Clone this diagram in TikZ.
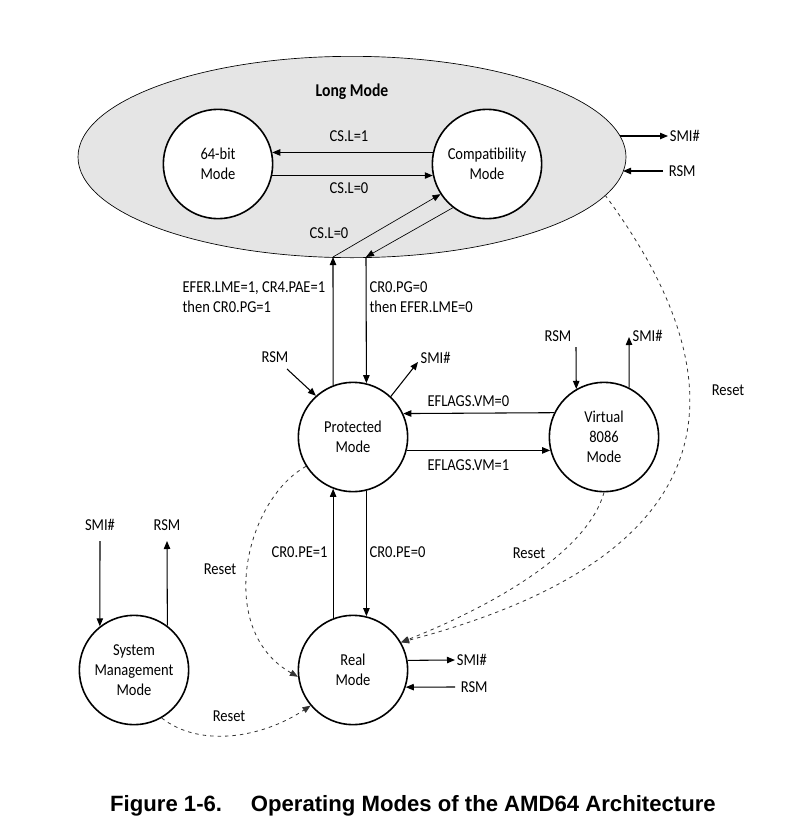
\documentclass[tikz,border=0pt]{standalone}
\usepackage{fontspec}
\setmainfont{Carlito}[FakeStretch=0.87]
\newfontfamily\captionfont{Liberation Sans}
\usetikzlibrary{shapes.geometric, arrows.meta}

\begin{document}
\begin{tikzpicture}[x=0.75pt, y=-0.75pt, >={Triangle[length=6pt,width=4.8pt]},
    mode/.style={circle, draw, line width=1.2pt, fill=white, minimum size=82pt,
        inner sep=0pt, align=center, font=\fontsize{12.5}{15}\selectfont},
    lbl/.style={font=\fontsize{12.5}{15}\selectfont, inner sep=1pt, align=left},
    trans/.style={->, line width=0.8pt},
    diag/.style={->, line width=0.5pt},
    reset/.style={->, line width=0.6pt, dash pattern=on 2.6pt off 3pt, black!80}]
    \useasboundingbox (0,0) rectangle (794,832);

    % Long mode region
    \node[ellipse, draw, line width=0.5pt, fill=gray!20, minimum width=411pt,
        minimum height=151pt, inner sep=0pt] (long) at (352,157) {};
    \node[font=\fontsize{13.5}{16}\selectfont\bfseries] (longtitle) at (352,92) {Long Mode};

    % Modes
    \node[mode] (bit64) at (218,164) {64-bit\\Mode};
    \node[mode] (compat) at (487,164) {Compatibility\\Mode};
    \node[mode] (prot) at (353,437) {Protected\\Mode};
    \node[mode] (v86) at (604,437) {Virtual\\8086\\Mode};
    \node[mode] (real) at (353,670) {Real\\Mode};
    \node[mode] (smm) at (134,670) {System\\Management\\Mode};

    % Inside long mode
    \draw[trans] (compat.168) -- (bit64.12);
    \draw[trans] (bit64.-12) -- (compat.192);
    \node[lbl] (csl1) at (349,136) {CS.L=1};
    \node[lbl] (csl0) at (349,188) {CS.L=0};

    % Long mode <-> protected mode
    \coordinate (lmL) at (333,257);
    \coordinate (lmR) at (366,257);
    \draw[trans] (prot.111.3) -- (lmL);
    \draw[diag] (lmL) -- (compat.213);
    \draw[diag] (compat.232) -- (lmR);
    \draw[trans] (lmR) -- (prot.76.3);
    \node[lbl] (cslb) at (329,233) {CS.L=0};
    \node[lbl, anchor=west] (enter) at (181,297) {EFER.LME=1, CR4.PAE=1\\then CR0.PG=1};
    \node[lbl, anchor=west] (leave) at (368,297) {CR0.PG=0\\then EFER.LME=0};

    % SMI# / RSM of long mode
    \coordinate (lmSmiA) at (620,136);
    \coordinate (lmSmiB) at (668,136);
    \coordinate (lmRsmA) at (663,171);
    \coordinate (lmRsmB) at (623,171);
    \draw[trans] (lmSmiA) -- (lmSmiB) node[lbl, right] (lmsmi) {SMI\#};
    \draw[trans] (lmRsmA) node[lbl, right=3pt] (lmrsm) {RSM} -- (lmRsmB);

    % SMI# / RSM of protected mode
    \coordinate (pRsm) at (287,369);
    \coordinate (pSmi) at (418,362);
    \node[lbl] (prsm) at (275,357) {RSM};
    \node[lbl, anchor=west] (psmi) at (419,358) {SMI\#};
    \draw[trans] (pRsm) -- (prot.132);
    \draw[trans] (prot.47) -- (pSmi);

    % Protected mode <-> virtual 8086 mode
    \draw[trans] (v86.154.7) -- (prot.25.3);
    \draw[trans] (prot.-14.2) -- (v86.194.2);
    \node[lbl, anchor=west] (vm0) at (426,401) {EFLAGS.VM=0};
    \node[lbl, anchor=west] (vm1) at (426,465) {EFLAGS.VM=1};

    % SMI# / RSM of virtual 8086 mode
    \coordinate (vRsm) at (576,347);
    \coordinate (vSmi) at (629,337);
    \node[lbl] (vrsm) at (558,336) {RSM};
    \node[lbl, anchor=west] (vsmi) at (631,336) {SMI\#};
    \draw[trans] (vRsm) -- (v86.120.6);
    \draw[trans] (v86.63) -- (vSmi);

    % Protected mode <-> real mode
    \draw[trans] (real.111.3) -- (prot.-111.3);
    \draw[trans] (prot.-76.3) -- (real.76.3);
    \node[lbl, anchor=east] (pe1) at (329,552) {CR0.PE=1};
    \node[lbl, anchor=west] (pe0) at (368,552) {CR0.PE=0};

    % SMI# / RSM of real mode
    \coordinate (rSmi) at (455,660);
    \coordinate (rRsm) at (455,687);
    \draw[trans] (real.10.5) -- (rSmi) node[lbl, right] (rsmi) {SMI\#};
    \draw[trans] (rRsm) node[lbl, right=3pt] (rrsm) {RSM} -- (real.-18);

    % SMI# / RSM of system management mode
    \coordinate (sSmi) at (100,541);
    \coordinate (sRsm) at (167,541);
    \node[lbl] (ssmi) at (100,525) {SMI\#};
    \node[lbl] (srsm) at (167,525) {RSM};
    \draw[trans] (sSmi) -- (smm.128.2);
    \draw[trans] (smm.53) -- (sRsm);

    % Reset paths
    \coordinate (lmReset) at (605,195);
    \draw[reset] (lmReset) .. controls (705,330) and (790,540) .. (real.30);
    \draw[reset] (v86.-90) .. controls (585,560) and (470,615) .. (real.30);
    \draw[reset] (prot.212) .. controls (245,500) and (215,630) .. (real.187);
    \draw[reset] (smm.-60) .. controls (200,748) and (262,738) .. (real.220);
    \node[lbl] (rst1) at (728,390) {Reset};
    \node[lbl] (rst2) at (529,553) {Reset};
    \node[lbl] (rst3) at (220,569) {Reset};
    \node[lbl] (rst4) at (229,716) {Reset};

    % Caption
    \node[font=\captionfont\fontsize{16.6}{20}\selectfont\bfseries] (caption) at (413,806)
        {Figure 1-6.\hspace{1.3em}Operating Modes of the AMD64 Architecture};
\end{tikzpicture}
\end{document}
